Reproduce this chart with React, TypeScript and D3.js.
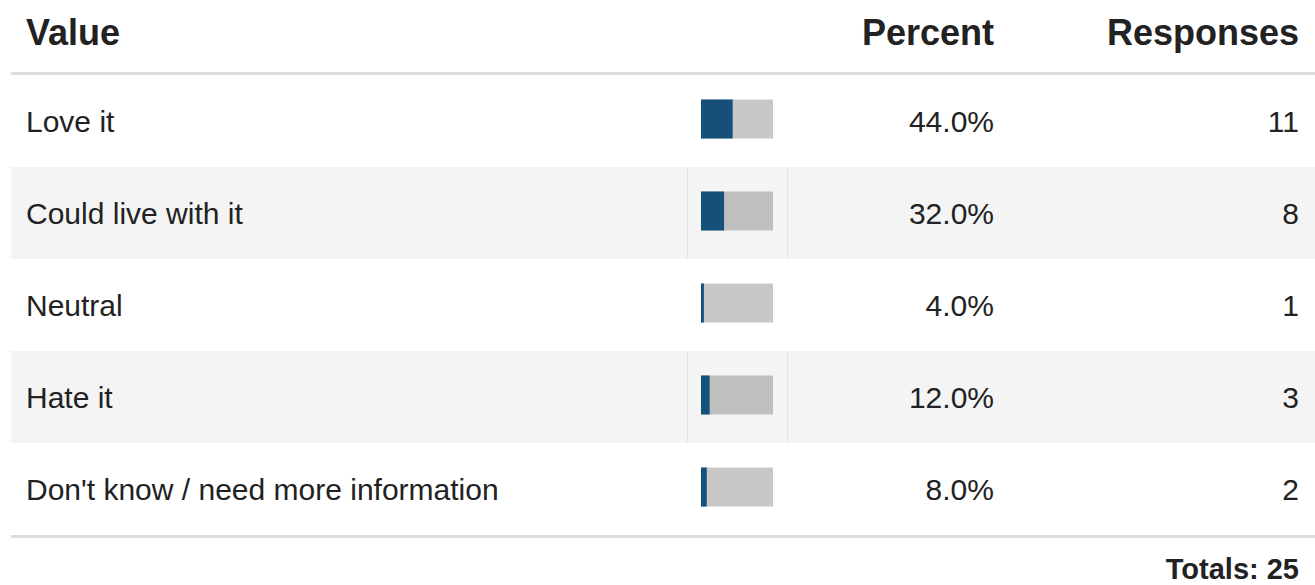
import React from "react";
import * as d3 from "d3";

const categories = ["Love it", "Could live with it", "Neutral", "Hate it", "Don't know / need more information"];
const percents = [44.0, 32.0, 4.0, 12.0, 8.0];
const responses = [11, 8, 1, 3, 2];
const totalResponses = 25;
const headers = ["Value", "Percent", "Responses"];

export default function App() {
  const W = 1315;
  const H = 585;
  const left = 11;
  const headerLineY = 73.5;
  const rowTop = 75;
  const rowH = 92;
  const barX = 701;
  const barW = 72;
  const barH = 39;
  const pctRight = 994;
  const respRight = 1299;
  const font = "'Liberation Sans', Arial, Helvetica, sans-serif";

  const x = d3.scaleLinear().domain([0, 100]).range([0, barW]);
  const y = d3.scaleBand<number>().domain(d3.range(categories.length)).range([rowTop, rowTop + rowH * categories.length]);
  const bottomLineY = rowTop + rowH * categories.length + 1.5;

  return (
    <svg width={W} height={H} style={{ position: "absolute", left: 0, top: 0, fontFamily: font }}>
      <rect x={0} y={0} width={W} height={H} fill="#fff" />
      <text x={26} y={45} fontSize={36} fontWeight="bold" fill="#222">{headers[0]}</text>
      <text x={pctRight} y={45} fontSize={36} fontWeight="bold" fill="#222" textAnchor="end">{headers[1]}</text>
      <text x={respRight} y={45} fontSize={36} fontWeight="bold" fill="#222" textAnchor="end">{headers[2]}</text>
      <line x1={left} x2={W} y1={headerLineY} y2={headerLineY} stroke="#dddddd" strokeWidth={3} />
      {categories.map((c, i) => {
        const top = y(i)!;
        const cy = top + rowH / 2;
        const shaded = i % 2 === 1;
        return (
          <g key={c}>
            {shaded && (
              <g>
                <rect x={left} y={top} width={W - left} height={rowH} fill="#f4f4f4" />
                <line x1={687.5} x2={687.5} y1={top} y2={top + rowH} stroke="#e6e6e6" strokeWidth={1} />
                <line x1={787.5} x2={787.5} y1={top} y2={top + rowH} stroke="#e6e6e6" strokeWidth={1} />
              </g>
            )}
            <text x={26} y={cy + 10.5} fontSize={30} fill="#222">{c}</text>
            <rect x={barX} y={cy - barH / 2 - 2} width={x(100)} height={barH} fill="#000" fillOpacity={0.215} />
            <rect x={barX} y={cy - barH / 2 - 2} width={x(percents[i])} height={barH} fill="#15507a" />
            <text x={pctRight} y={cy + 10.5} fontSize={30} fill="#222" textAnchor="end">{percents[i].toFixed(1)}%</text>
            <text x={respRight} y={cy + 10.5} fontSize={30} fill="#222" textAnchor="end">{responses[i]}</text>
          </g>
        );
      })}
      <line x1={left} x2={W} y1={bottomLineY} y2={bottomLineY} stroke="#dddddd" strokeWidth={3} />
      <text x={respRight} y={578.5} fontSize={29} fontWeight="bold" fill="#222" textAnchor="end">Totals: {totalResponses}</text>
    </svg>
  );
}
